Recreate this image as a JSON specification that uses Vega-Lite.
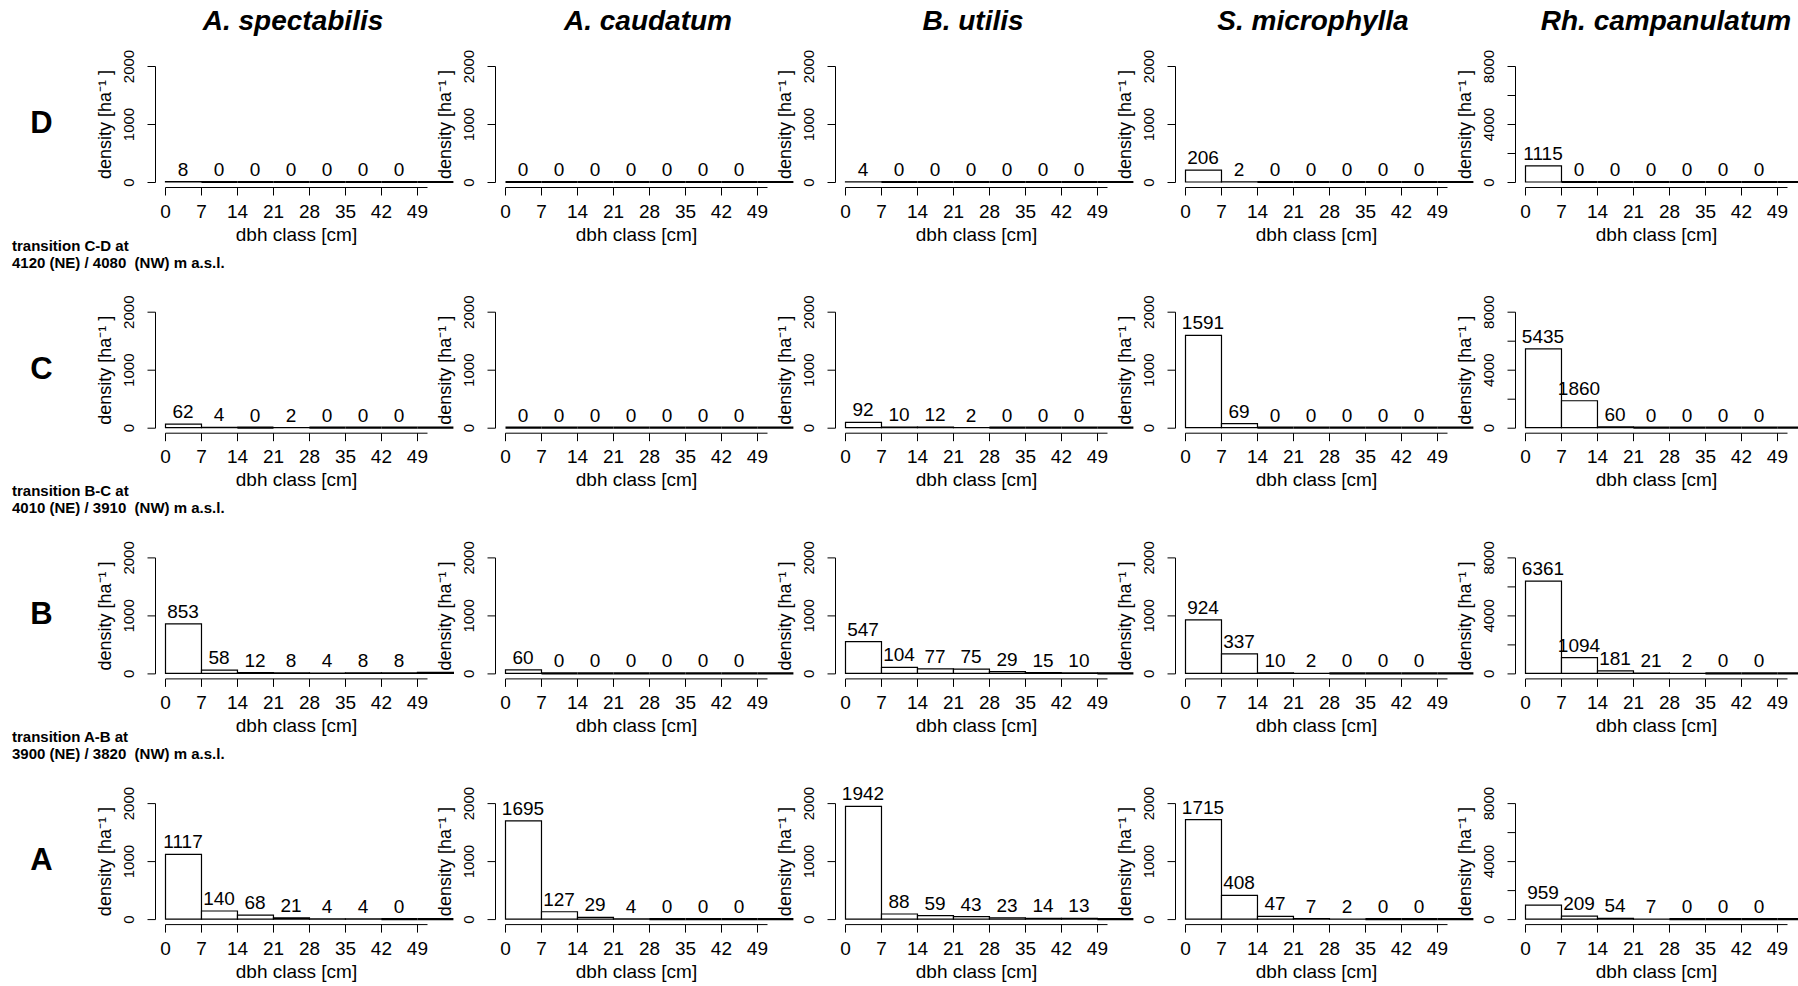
{
  "$schema": "https://vega.github.io/schema/vega-lite/v6.json",
  "autosize": {"type": "pad"},
  "padding": {"left": 0, "top": 8, "right": 5, "bottom": 5},
  "background": "white",
  "data": {"values": [
    {"zone":"D","species":"A. spectabilis","from":0,"to":7,"density":8},
    {"zone":"D","species":"A. spectabilis","from":7,"to":14,"density":0},
    {"zone":"D","species":"A. spectabilis","from":14,"to":21,"density":0},
    {"zone":"D","species":"A. spectabilis","from":21,"to":28,"density":0},
    {"zone":"D","species":"A. spectabilis","from":28,"to":35,"density":0},
    {"zone":"D","species":"A. spectabilis","from":35,"to":42,"density":0},
    {"zone":"D","species":"A. spectabilis","from":42,"to":49,"density":0},
    {"zone":"D","species":"A. spectabilis","from":49,"to":56,"density":0},
    {"zone":"D","species":"A. caudatum","from":0,"to":7,"density":0},
    {"zone":"D","species":"A. caudatum","from":7,"to":14,"density":0},
    {"zone":"D","species":"A. caudatum","from":14,"to":21,"density":0},
    {"zone":"D","species":"A. caudatum","from":21,"to":28,"density":0},
    {"zone":"D","species":"A. caudatum","from":28,"to":35,"density":0},
    {"zone":"D","species":"A. caudatum","from":35,"to":42,"density":0},
    {"zone":"D","species":"A. caudatum","from":42,"to":49,"density":0},
    {"zone":"D","species":"A. caudatum","from":49,"to":56,"density":0},
    {"zone":"D","species":"B. utilis","from":0,"to":7,"density":4},
    {"zone":"D","species":"B. utilis","from":7,"to":14,"density":0},
    {"zone":"D","species":"B. utilis","from":14,"to":21,"density":0},
    {"zone":"D","species":"B. utilis","from":21,"to":28,"density":0},
    {"zone":"D","species":"B. utilis","from":28,"to":35,"density":0},
    {"zone":"D","species":"B. utilis","from":35,"to":42,"density":0},
    {"zone":"D","species":"B. utilis","from":42,"to":49,"density":0},
    {"zone":"D","species":"B. utilis","from":49,"to":56,"density":0},
    {"zone":"D","species":"S. microphylla","from":0,"to":7,"density":206},
    {"zone":"D","species":"S. microphylla","from":7,"to":14,"density":2},
    {"zone":"D","species":"S. microphylla","from":14,"to":21,"density":0},
    {"zone":"D","species":"S. microphylla","from":21,"to":28,"density":0},
    {"zone":"D","species":"S. microphylla","from":28,"to":35,"density":0},
    {"zone":"D","species":"S. microphylla","from":35,"to":42,"density":0},
    {"zone":"D","species":"S. microphylla","from":42,"to":49,"density":0},
    {"zone":"D","species":"S. microphylla","from":49,"to":56,"density":0},
    {"zone":"D","species":"Rh. campanulatum","from":0,"to":7,"density":1115},
    {"zone":"D","species":"Rh. campanulatum","from":7,"to":14,"density":0},
    {"zone":"D","species":"Rh. campanulatum","from":14,"to":21,"density":0},
    {"zone":"D","species":"Rh. campanulatum","from":21,"to":28,"density":0},
    {"zone":"D","species":"Rh. campanulatum","from":28,"to":35,"density":0},
    {"zone":"D","species":"Rh. campanulatum","from":35,"to":42,"density":0},
    {"zone":"D","species":"Rh. campanulatum","from":42,"to":49,"density":0},
    {"zone":"D","species":"Rh. campanulatum","from":49,"to":56,"density":0},
    {"zone":"C","species":"A. spectabilis","from":0,"to":7,"density":62},
    {"zone":"C","species":"A. spectabilis","from":7,"to":14,"density":4},
    {"zone":"C","species":"A. spectabilis","from":14,"to":21,"density":0},
    {"zone":"C","species":"A. spectabilis","from":21,"to":28,"density":2},
    {"zone":"C","species":"A. spectabilis","from":28,"to":35,"density":0},
    {"zone":"C","species":"A. spectabilis","from":35,"to":42,"density":0},
    {"zone":"C","species":"A. spectabilis","from":42,"to":49,"density":0},
    {"zone":"C","species":"A. spectabilis","from":49,"to":56,"density":0},
    {"zone":"C","species":"A. caudatum","from":0,"to":7,"density":0},
    {"zone":"C","species":"A. caudatum","from":7,"to":14,"density":0},
    {"zone":"C","species":"A. caudatum","from":14,"to":21,"density":0},
    {"zone":"C","species":"A. caudatum","from":21,"to":28,"density":0},
    {"zone":"C","species":"A. caudatum","from":28,"to":35,"density":0},
    {"zone":"C","species":"A. caudatum","from":35,"to":42,"density":0},
    {"zone":"C","species":"A. caudatum","from":42,"to":49,"density":0},
    {"zone":"C","species":"A. caudatum","from":49,"to":56,"density":0},
    {"zone":"C","species":"B. utilis","from":0,"to":7,"density":92},
    {"zone":"C","species":"B. utilis","from":7,"to":14,"density":10},
    {"zone":"C","species":"B. utilis","from":14,"to":21,"density":12},
    {"zone":"C","species":"B. utilis","from":21,"to":28,"density":2},
    {"zone":"C","species":"B. utilis","from":28,"to":35,"density":0},
    {"zone":"C","species":"B. utilis","from":35,"to":42,"density":0},
    {"zone":"C","species":"B. utilis","from":42,"to":49,"density":0},
    {"zone":"C","species":"B. utilis","from":49,"to":56,"density":0},
    {"zone":"C","species":"S. microphylla","from":0,"to":7,"density":1591},
    {"zone":"C","species":"S. microphylla","from":7,"to":14,"density":69},
    {"zone":"C","species":"S. microphylla","from":14,"to":21,"density":0},
    {"zone":"C","species":"S. microphylla","from":21,"to":28,"density":0},
    {"zone":"C","species":"S. microphylla","from":28,"to":35,"density":0},
    {"zone":"C","species":"S. microphylla","from":35,"to":42,"density":0},
    {"zone":"C","species":"S. microphylla","from":42,"to":49,"density":0},
    {"zone":"C","species":"S. microphylla","from":49,"to":56,"density":0},
    {"zone":"C","species":"Rh. campanulatum","from":0,"to":7,"density":5435},
    {"zone":"C","species":"Rh. campanulatum","from":7,"to":14,"density":1860},
    {"zone":"C","species":"Rh. campanulatum","from":14,"to":21,"density":60},
    {"zone":"C","species":"Rh. campanulatum","from":21,"to":28,"density":0},
    {"zone":"C","species":"Rh. campanulatum","from":28,"to":35,"density":0},
    {"zone":"C","species":"Rh. campanulatum","from":35,"to":42,"density":0},
    {"zone":"C","species":"Rh. campanulatum","from":42,"to":49,"density":0},
    {"zone":"C","species":"Rh. campanulatum","from":49,"to":56,"density":0},
    {"zone":"B","species":"A. spectabilis","from":0,"to":7,"density":853},
    {"zone":"B","species":"A. spectabilis","from":7,"to":14,"density":58},
    {"zone":"B","species":"A. spectabilis","from":14,"to":21,"density":12},
    {"zone":"B","species":"A. spectabilis","from":21,"to":28,"density":8},
    {"zone":"B","species":"A. spectabilis","from":28,"to":35,"density":4},
    {"zone":"B","species":"A. spectabilis","from":35,"to":42,"density":8},
    {"zone":"B","species":"A. spectabilis","from":42,"to":49,"density":8},
    {"zone":"B","species":"A. spectabilis","from":49,"to":56,"density":20},
    {"zone":"B","species":"A. caudatum","from":0,"to":7,"density":60},
    {"zone":"B","species":"A. caudatum","from":7,"to":14,"density":0},
    {"zone":"B","species":"A. caudatum","from":14,"to":21,"density":0},
    {"zone":"B","species":"A. caudatum","from":21,"to":28,"density":0},
    {"zone":"B","species":"A. caudatum","from":28,"to":35,"density":0},
    {"zone":"B","species":"A. caudatum","from":35,"to":42,"density":0},
    {"zone":"B","species":"A. caudatum","from":42,"to":49,"density":0},
    {"zone":"B","species":"A. caudatum","from":49,"to":56,"density":0},
    {"zone":"B","species":"B. utilis","from":0,"to":7,"density":547},
    {"zone":"B","species":"B. utilis","from":7,"to":14,"density":104},
    {"zone":"B","species":"B. utilis","from":14,"to":21,"density":77},
    {"zone":"B","species":"B. utilis","from":21,"to":28,"density":75},
    {"zone":"B","species":"B. utilis","from":28,"to":35,"density":29},
    {"zone":"B","species":"B. utilis","from":35,"to":42,"density":15},
    {"zone":"B","species":"B. utilis","from":42,"to":49,"density":10},
    {"zone":"B","species":"B. utilis","from":49,"to":56,"density":0},
    {"zone":"B","species":"S. microphylla","from":0,"to":7,"density":924},
    {"zone":"B","species":"S. microphylla","from":7,"to":14,"density":337},
    {"zone":"B","species":"S. microphylla","from":14,"to":21,"density":10},
    {"zone":"B","species":"S. microphylla","from":21,"to":28,"density":2},
    {"zone":"B","species":"S. microphylla","from":28,"to":35,"density":0},
    {"zone":"B","species":"S. microphylla","from":35,"to":42,"density":0},
    {"zone":"B","species":"S. microphylla","from":42,"to":49,"density":0},
    {"zone":"B","species":"S. microphylla","from":49,"to":56,"density":0},
    {"zone":"B","species":"Rh. campanulatum","from":0,"to":7,"density":6361},
    {"zone":"B","species":"Rh. campanulatum","from":7,"to":14,"density":1094},
    {"zone":"B","species":"Rh. campanulatum","from":14,"to":21,"density":181},
    {"zone":"B","species":"Rh. campanulatum","from":21,"to":28,"density":21},
    {"zone":"B","species":"Rh. campanulatum","from":28,"to":35,"density":2},
    {"zone":"B","species":"Rh. campanulatum","from":35,"to":42,"density":0},
    {"zone":"B","species":"Rh. campanulatum","from":42,"to":49,"density":0},
    {"zone":"B","species":"Rh. campanulatum","from":49,"to":56,"density":0},
    {"zone":"A","species":"A. spectabilis","from":0,"to":7,"density":1117},
    {"zone":"A","species":"A. spectabilis","from":7,"to":14,"density":140},
    {"zone":"A","species":"A. spectabilis","from":14,"to":21,"density":68},
    {"zone":"A","species":"A. spectabilis","from":21,"to":28,"density":21},
    {"zone":"A","species":"A. spectabilis","from":28,"to":35,"density":4},
    {"zone":"A","species":"A. spectabilis","from":35,"to":42,"density":4},
    {"zone":"A","species":"A. spectabilis","from":42,"to":49,"density":0},
    {"zone":"A","species":"A. spectabilis","from":49,"to":56,"density":0},
    {"zone":"A","species":"A. caudatum","from":0,"to":7,"density":1695},
    {"zone":"A","species":"A. caudatum","from":7,"to":14,"density":127},
    {"zone":"A","species":"A. caudatum","from":14,"to":21,"density":29},
    {"zone":"A","species":"A. caudatum","from":21,"to":28,"density":4},
    {"zone":"A","species":"A. caudatum","from":28,"to":35,"density":0},
    {"zone":"A","species":"A. caudatum","from":35,"to":42,"density":0},
    {"zone":"A","species":"A. caudatum","from":42,"to":49,"density":0},
    {"zone":"A","species":"A. caudatum","from":49,"to":56,"density":0},
    {"zone":"A","species":"B. utilis","from":0,"to":7,"density":1942},
    {"zone":"A","species":"B. utilis","from":7,"to":14,"density":88},
    {"zone":"A","species":"B. utilis","from":14,"to":21,"density":59},
    {"zone":"A","species":"B. utilis","from":21,"to":28,"density":43},
    {"zone":"A","species":"B. utilis","from":28,"to":35,"density":23},
    {"zone":"A","species":"B. utilis","from":35,"to":42,"density":14},
    {"zone":"A","species":"B. utilis","from":42,"to":49,"density":13},
    {"zone":"A","species":"B. utilis","from":49,"to":56,"density":0},
    {"zone":"A","species":"S. microphylla","from":0,"to":7,"density":1715},
    {"zone":"A","species":"S. microphylla","from":7,"to":14,"density":408},
    {"zone":"A","species":"S. microphylla","from":14,"to":21,"density":47},
    {"zone":"A","species":"S. microphylla","from":21,"to":28,"density":7},
    {"zone":"A","species":"S. microphylla","from":28,"to":35,"density":2},
    {"zone":"A","species":"S. microphylla","from":35,"to":42,"density":0},
    {"zone":"A","species":"S. microphylla","from":42,"to":49,"density":0},
    {"zone":"A","species":"S. microphylla","from":49,"to":56,"density":0},
    {"zone":"A","species":"Rh. campanulatum","from":0,"to":7,"density":959},
    {"zone":"A","species":"Rh. campanulatum","from":7,"to":14,"density":209},
    {"zone":"A","species":"Rh. campanulatum","from":14,"to":21,"density":54},
    {"zone":"A","species":"Rh. campanulatum","from":21,"to":28,"density":7},
    {"zone":"A","species":"Rh. campanulatum","from":28,"to":35,"density":0},
    {"zone":"A","species":"Rh. campanulatum","from":35,"to":42,"density":0},
    {"zone":"A","species":"Rh. campanulatum","from":42,"to":49,"density":0},
    {"zone":"A","species":"Rh. campanulatum","from":49,"to":56,"density":0}
  ]},
  "columns": 6,
  "bounds": "flush",
  "spacing": {"row": 129.7, "column": 78},
  "concat": [
    {"width":87,"height":116,"data":{"values":[{"zone":"D"}]},"mark":{"type":"text","fontSize":31,"fontWeight":"bold","baseline":"middle","dy":0,"dx":-2},"encoding":{"text":{"field":"zone","type":"nominal"}}},
    {"width":262,"height":116,"title":{"text":"A. spectabilis","dx":-3},"transform":[{"filter":"datum.zone==='D'&&datum.species==='A. spectabilis'"}],"encoding":{"x":{"field":"from","type":"quantitative","bin":"binned","scale":{"domain":[0,50.96],"nice":false,"zero":false},"axis":{"values":[0,7,14,21,28,35,42,49],"title":"dbh class [cm]"}},"x2":{"field":"to"},"y":{"field":"density","type":"quantitative","scale":{"domain":[0,2000],"nice":false},"axis":{"values":[0,1000,2000],"title":"density [ha⁻¹ ]"}}},"layer":[{"mark":"bar","encoding":{"strokeWidth":{"condition":{"test":"datum.density === 0","value":2.2},"value":1.2}}},{"transform":[{"filter":"datum.from<49"}],"mark":"text","encoding":{"text":{"field":"density","type":"quantitative","format":"d"}}}]},
    {"width":262,"height":116,"title":{"text":"A. caudatum","dx":12},"transform":[{"filter":"datum.zone==='D'&&datum.species==='A. caudatum'"}],"encoding":{"x":{"field":"from","type":"quantitative","bin":"binned","scale":{"domain":[0,50.96],"nice":false,"zero":false},"axis":{"values":[0,7,14,21,28,35,42,49],"title":"dbh class [cm]"}},"x2":{"field":"to"},"y":{"field":"density","type":"quantitative","scale":{"domain":[0,2000],"nice":false},"axis":{"values":[0,1000,2000],"title":"density [ha⁻¹ ]"}}},"layer":[{"mark":"bar","encoding":{"strokeWidth":{"condition":{"test":"datum.density === 0","value":2.2},"value":1.2}}},{"transform":[{"filter":"datum.from<49"}],"mark":"text","encoding":{"text":{"field":"density","type":"quantitative","format":"d"}}}]},
    {"width":262,"height":116,"title":{"text":"B. utilis","dx":-3},"transform":[{"filter":"datum.zone==='D'&&datum.species==='B. utilis'"}],"encoding":{"x":{"field":"from","type":"quantitative","bin":"binned","scale":{"domain":[0,50.96],"nice":false,"zero":false},"axis":{"values":[0,7,14,21,28,35,42,49],"title":"dbh class [cm]"}},"x2":{"field":"to"},"y":{"field":"density","type":"quantitative","scale":{"domain":[0,2000],"nice":false},"axis":{"values":[0,1000,2000],"title":"density [ha⁻¹ ]"}}},"layer":[{"mark":"bar","encoding":{"strokeWidth":{"condition":{"test":"datum.density === 0","value":2.2},"value":1.2}}},{"transform":[{"filter":"datum.from<49"}],"mark":"text","encoding":{"text":{"field":"density","type":"quantitative","format":"d"}}}]},
    {"width":262,"height":116,"title":{"text":"S. microphylla","dx":-3},"transform":[{"filter":"datum.zone==='D'&&datum.species==='S. microphylla'"}],"encoding":{"x":{"field":"from","type":"quantitative","bin":"binned","scale":{"domain":[0,50.96],"nice":false,"zero":false},"axis":{"values":[0,7,14,21,28,35,42,49],"title":"dbh class [cm]"}},"x2":{"field":"to"},"y":{"field":"density","type":"quantitative","scale":{"domain":[0,2000],"nice":false},"axis":{"values":[0,1000,2000],"title":"density [ha⁻¹ ]"}}},"layer":[{"mark":"bar","encoding":{"strokeWidth":{"condition":{"test":"datum.density === 0","value":2.2},"value":1.2}}},{"transform":[{"filter":"datum.from<49"}],"mark":"text","encoding":{"text":{"field":"density","type":"quantitative","format":"d"}}}]},
    {"width":262,"height":116,"title":{"text":"Rh. campanulatum","dx":10},"transform":[{"filter":"datum.zone==='D'&&datum.species==='Rh. campanulatum'"}],"encoding":{"x":{"field":"from","type":"quantitative","bin":"binned","scale":{"domain":[0,50.96],"nice":false,"zero":false},"axis":{"values":[0,7,14,21,28,35,42,49],"title":"dbh class [cm]"}},"x2":{"field":"to"},"y":{"field":"density","type":"quantitative","scale":{"domain":[0,8000],"nice":false},"axis":{"values":[0,2000,4000,6000,8000],"labelExpr":"datum.value % 4000 === 0 ? datum.label : ''","title":"density [ha⁻¹ ]"}}},"layer":[{"mark":"bar","encoding":{"strokeWidth":{"condition":{"test":"datum.density === 0","value":2.2},"value":1.2}}},{"transform":[{"filter":"datum.from<49"}],"mark":"text","encoding":{"text":{"field":"density","type":"quantitative","format":"d"}}}]},

    {"width":87,"height":116,"title":{"text":["transition C-D at","4120 (NE) / 4080\u00a0 (NW) m a.s.l."],"fontSize":15,"fontStyle":"normal","fontWeight":"bold","anchor":"start","lineHeight":17,"dx":12,"offset":41},"data":{"values":[{"zone":"C"}]},"mark":{"type":"text","fontSize":31,"fontWeight":"bold","baseline":"middle","dy":0,"dx":-2},"encoding":{"text":{"field":"zone","type":"nominal"}}},
    {"width":262,"height":116,"transform":[{"filter":"datum.zone==='C'&&datum.species==='A. spectabilis'"}],"encoding":{"x":{"field":"from","type":"quantitative","bin":"binned","scale":{"domain":[0,50.96],"nice":false,"zero":false},"axis":{"values":[0,7,14,21,28,35,42,49],"title":"dbh class [cm]"}},"x2":{"field":"to"},"y":{"field":"density","type":"quantitative","scale":{"domain":[0,2000],"nice":false},"axis":{"values":[0,1000,2000],"title":"density [ha⁻¹ ]"}}},"layer":[{"mark":"bar","encoding":{"strokeWidth":{"condition":{"test":"datum.density === 0","value":2.2},"value":1.2}}},{"transform":[{"filter":"datum.from<49"}],"mark":"text","encoding":{"text":{"field":"density","type":"quantitative","format":"d"}}}]},
    {"width":262,"height":116,"transform":[{"filter":"datum.zone==='C'&&datum.species==='A. caudatum'"}],"encoding":{"x":{"field":"from","type":"quantitative","bin":"binned","scale":{"domain":[0,50.96],"nice":false,"zero":false},"axis":{"values":[0,7,14,21,28,35,42,49],"title":"dbh class [cm]"}},"x2":{"field":"to"},"y":{"field":"density","type":"quantitative","scale":{"domain":[0,2000],"nice":false},"axis":{"values":[0,1000,2000],"title":"density [ha⁻¹ ]"}}},"layer":[{"mark":"bar","encoding":{"strokeWidth":{"condition":{"test":"datum.density === 0","value":2.2},"value":1.2}}},{"transform":[{"filter":"datum.from<49"}],"mark":"text","encoding":{"text":{"field":"density","type":"quantitative","format":"d"}}}]},
    {"width":262,"height":116,"transform":[{"filter":"datum.zone==='C'&&datum.species==='B. utilis'"}],"encoding":{"x":{"field":"from","type":"quantitative","bin":"binned","scale":{"domain":[0,50.96],"nice":false,"zero":false},"axis":{"values":[0,7,14,21,28,35,42,49],"title":"dbh class [cm]"}},"x2":{"field":"to"},"y":{"field":"density","type":"quantitative","scale":{"domain":[0,2000],"nice":false},"axis":{"values":[0,1000,2000],"title":"density [ha⁻¹ ]"}}},"layer":[{"mark":"bar","encoding":{"strokeWidth":{"condition":{"test":"datum.density === 0","value":2.2},"value":1.2}}},{"transform":[{"filter":"datum.from<49"}],"mark":"text","encoding":{"text":{"field":"density","type":"quantitative","format":"d"}}}]},
    {"width":262,"height":116,"transform":[{"filter":"datum.zone==='C'&&datum.species==='S. microphylla'"}],"encoding":{"x":{"field":"from","type":"quantitative","bin":"binned","scale":{"domain":[0,50.96],"nice":false,"zero":false},"axis":{"values":[0,7,14,21,28,35,42,49],"title":"dbh class [cm]"}},"x2":{"field":"to"},"y":{"field":"density","type":"quantitative","scale":{"domain":[0,2000],"nice":false},"axis":{"values":[0,1000,2000],"title":"density [ha⁻¹ ]"}}},"layer":[{"mark":"bar","encoding":{"strokeWidth":{"condition":{"test":"datum.density === 0","value":2.2},"value":1.2}}},{"transform":[{"filter":"datum.from<49"}],"mark":"text","encoding":{"text":{"field":"density","type":"quantitative","format":"d"}}}]},
    {"width":262,"height":116,"transform":[{"filter":"datum.zone==='C'&&datum.species==='Rh. campanulatum'"}],"encoding":{"x":{"field":"from","type":"quantitative","bin":"binned","scale":{"domain":[0,50.96],"nice":false,"zero":false},"axis":{"values":[0,7,14,21,28,35,42,49],"title":"dbh class [cm]"}},"x2":{"field":"to"},"y":{"field":"density","type":"quantitative","scale":{"domain":[0,8000],"nice":false},"axis":{"values":[0,2000,4000,6000,8000],"labelExpr":"datum.value % 4000 === 0 ? datum.label : ''","title":"density [ha⁻¹ ]"}}},"layer":[{"mark":"bar","encoding":{"strokeWidth":{"condition":{"test":"datum.density === 0","value":2.2},"value":1.2}}},{"transform":[{"filter":"datum.from<49"}],"mark":"text","encoding":{"text":{"field":"density","type":"quantitative","format":"d"}}}]},

    {"width":87,"height":116,"title":{"text":["transition B-C at","4010 (NE) / 3910\u00a0 (NW) m a.s.l."],"fontSize":15,"fontStyle":"normal","fontWeight":"bold","anchor":"start","lineHeight":17,"dx":12,"offset":41},"data":{"values":[{"zone":"B"}]},"mark":{"type":"text","fontSize":31,"fontWeight":"bold","baseline":"middle","dy":0,"dx":-2},"encoding":{"text":{"field":"zone","type":"nominal"}}},
    {"width":262,"height":116,"transform":[{"filter":"datum.zone==='B'&&datum.species==='A. spectabilis'"}],"encoding":{"x":{"field":"from","type":"quantitative","bin":"binned","scale":{"domain":[0,50.96],"nice":false,"zero":false},"axis":{"values":[0,7,14,21,28,35,42,49],"title":"dbh class [cm]"}},"x2":{"field":"to"},"y":{"field":"density","type":"quantitative","scale":{"domain":[0,2000],"nice":false},"axis":{"values":[0,1000,2000],"title":"density [ha⁻¹ ]"}}},"layer":[{"mark":"bar","encoding":{"strokeWidth":{"condition":{"test":"datum.density === 0","value":2.2},"value":1.2}}},{"transform":[{"filter":"datum.from<49"}],"mark":"text","encoding":{"text":{"field":"density","type":"quantitative","format":"d"}}}]},
    {"width":262,"height":116,"transform":[{"filter":"datum.zone==='B'&&datum.species==='A. caudatum'"}],"encoding":{"x":{"field":"from","type":"quantitative","bin":"binned","scale":{"domain":[0,50.96],"nice":false,"zero":false},"axis":{"values":[0,7,14,21,28,35,42,49],"title":"dbh class [cm]"}},"x2":{"field":"to"},"y":{"field":"density","type":"quantitative","scale":{"domain":[0,2000],"nice":false},"axis":{"values":[0,1000,2000],"title":"density [ha⁻¹ ]"}}},"layer":[{"mark":"bar","encoding":{"strokeWidth":{"condition":{"test":"datum.density === 0","value":2.2},"value":1.2}}},{"transform":[{"filter":"datum.from<49"}],"mark":"text","encoding":{"text":{"field":"density","type":"quantitative","format":"d"}}}]},
    {"width":262,"height":116,"transform":[{"filter":"datum.zone==='B'&&datum.species==='B. utilis'"}],"encoding":{"x":{"field":"from","type":"quantitative","bin":"binned","scale":{"domain":[0,50.96],"nice":false,"zero":false},"axis":{"values":[0,7,14,21,28,35,42,49],"title":"dbh class [cm]"}},"x2":{"field":"to"},"y":{"field":"density","type":"quantitative","scale":{"domain":[0,2000],"nice":false},"axis":{"values":[0,1000,2000],"title":"density [ha⁻¹ ]"}}},"layer":[{"mark":"bar","encoding":{"strokeWidth":{"condition":{"test":"datum.density === 0","value":2.2},"value":1.2}}},{"transform":[{"filter":"datum.from<49"}],"mark":"text","encoding":{"text":{"field":"density","type":"quantitative","format":"d"}}}]},
    {"width":262,"height":116,"transform":[{"filter":"datum.zone==='B'&&datum.species==='S. microphylla'"}],"encoding":{"x":{"field":"from","type":"quantitative","bin":"binned","scale":{"domain":[0,50.96],"nice":false,"zero":false},"axis":{"values":[0,7,14,21,28,35,42,49],"title":"dbh class [cm]"}},"x2":{"field":"to"},"y":{"field":"density","type":"quantitative","scale":{"domain":[0,2000],"nice":false},"axis":{"values":[0,1000,2000],"title":"density [ha⁻¹ ]"}}},"layer":[{"mark":"bar","encoding":{"strokeWidth":{"condition":{"test":"datum.density === 0","value":2.2},"value":1.2}}},{"transform":[{"filter":"datum.from<49"}],"mark":"text","encoding":{"text":{"field":"density","type":"quantitative","format":"d"}}}]},
    {"width":262,"height":116,"transform":[{"filter":"datum.zone==='B'&&datum.species==='Rh. campanulatum'"}],"encoding":{"x":{"field":"from","type":"quantitative","bin":"binned","scale":{"domain":[0,50.96],"nice":false,"zero":false},"axis":{"values":[0,7,14,21,28,35,42,49],"title":"dbh class [cm]"}},"x2":{"field":"to"},"y":{"field":"density","type":"quantitative","scale":{"domain":[0,8000],"nice":false},"axis":{"values":[0,2000,4000,6000,8000],"labelExpr":"datum.value % 4000 === 0 ? datum.label : ''","title":"density [ha⁻¹ ]"}}},"layer":[{"mark":"bar","encoding":{"strokeWidth":{"condition":{"test":"datum.density === 0","value":2.2},"value":1.2}}},{"transform":[{"filter":"datum.from<49"}],"mark":"text","encoding":{"text":{"field":"density","type":"quantitative","format":"d"}}}]},

    {"width":87,"height":116,"title":{"text":["transition A-B at","3900 (NE) / 3820\u00a0 (NW) m a.s.l."],"fontSize":15,"fontStyle":"normal","fontWeight":"bold","anchor":"start","lineHeight":17,"dx":12,"offset":41},"data":{"values":[{"zone":"A"}]},"mark":{"type":"text","fontSize":31,"fontWeight":"bold","baseline":"middle","dy":0,"dx":-2},"encoding":{"text":{"field":"zone","type":"nominal"}}},
    {"width":262,"height":116,"transform":[{"filter":"datum.zone==='A'&&datum.species==='A. spectabilis'"}],"encoding":{"x":{"field":"from","type":"quantitative","bin":"binned","scale":{"domain":[0,50.96],"nice":false,"zero":false},"axis":{"values":[0,7,14,21,28,35,42,49],"title":"dbh class [cm]"}},"x2":{"field":"to"},"y":{"field":"density","type":"quantitative","scale":{"domain":[0,2000],"nice":false},"axis":{"values":[0,1000,2000],"title":"density [ha⁻¹ ]"}}},"layer":[{"mark":"bar","encoding":{"strokeWidth":{"condition":{"test":"datum.density === 0","value":2.2},"value":1.2}}},{"transform":[{"filter":"datum.from<49"}],"mark":"text","encoding":{"text":{"field":"density","type":"quantitative","format":"d"}}}]},
    {"width":262,"height":116,"transform":[{"filter":"datum.zone==='A'&&datum.species==='A. caudatum'"}],"encoding":{"x":{"field":"from","type":"quantitative","bin":"binned","scale":{"domain":[0,50.96],"nice":false,"zero":false},"axis":{"values":[0,7,14,21,28,35,42,49],"title":"dbh class [cm]"}},"x2":{"field":"to"},"y":{"field":"density","type":"quantitative","scale":{"domain":[0,2000],"nice":false},"axis":{"values":[0,1000,2000],"title":"density [ha⁻¹ ]"}}},"layer":[{"mark":"bar","encoding":{"strokeWidth":{"condition":{"test":"datum.density === 0","value":2.2},"value":1.2}}},{"transform":[{"filter":"datum.from<49"}],"mark":"text","encoding":{"text":{"field":"density","type":"quantitative","format":"d"}}}]},
    {"width":262,"height":116,"transform":[{"filter":"datum.zone==='A'&&datum.species==='B. utilis'"}],"encoding":{"x":{"field":"from","type":"quantitative","bin":"binned","scale":{"domain":[0,50.96],"nice":false,"zero":false},"axis":{"values":[0,7,14,21,28,35,42,49],"title":"dbh class [cm]"}},"x2":{"field":"to"},"y":{"field":"density","type":"quantitative","scale":{"domain":[0,2000],"nice":false},"axis":{"values":[0,1000,2000],"title":"density [ha⁻¹ ]"}}},"layer":[{"mark":"bar","encoding":{"strokeWidth":{"condition":{"test":"datum.density === 0","value":2.2},"value":1.2}}},{"transform":[{"filter":"datum.from<49"}],"mark":"text","encoding":{"text":{"field":"density","type":"quantitative","format":"d"}}}]},
    {"width":262,"height":116,"transform":[{"filter":"datum.zone==='A'&&datum.species==='S. microphylla'"}],"encoding":{"x":{"field":"from","type":"quantitative","bin":"binned","scale":{"domain":[0,50.96],"nice":false,"zero":false},"axis":{"values":[0,7,14,21,28,35,42,49],"title":"dbh class [cm]"}},"x2":{"field":"to"},"y":{"field":"density","type":"quantitative","scale":{"domain":[0,2000],"nice":false},"axis":{"values":[0,1000,2000],"title":"density [ha⁻¹ ]"}}},"layer":[{"mark":"bar","encoding":{"strokeWidth":{"condition":{"test":"datum.density === 0","value":2.2},"value":1.2}}},{"transform":[{"filter":"datum.from<49"}],"mark":"text","encoding":{"text":{"field":"density","type":"quantitative","format":"d"}}}]},
    {"width":262,"height":116,"transform":[{"filter":"datum.zone==='A'&&datum.species==='Rh. campanulatum'"}],"encoding":{"x":{"field":"from","type":"quantitative","bin":"binned","scale":{"domain":[0,50.96],"nice":false,"zero":false},"axis":{"values":[0,7,14,21,28,35,42,49],"title":"dbh class [cm]"}},"x2":{"field":"to"},"y":{"field":"density","type":"quantitative","scale":{"domain":[0,8000],"nice":false},"axis":{"values":[0,2000,4000,6000,8000],"labelExpr":"datum.value % 4000 === 0 ? datum.label : ''","title":"density [ha⁻¹ ]"}}},"layer":[{"mark":"bar","encoding":{"strokeWidth":{"condition":{"test":"datum.density === 0","value":2.2},"value":1.2}}},{"transform":[{"filter":"datum.from<49"}],"mark":"text","encoding":{"text":{"field":"density","type":"quantitative","format":"d"}}}]}
  ],
  "config": {
    "view": {"stroke": null},
    "font": "Liberation Sans",
    "numberFormat": "d",
    "axis": {"domainColor": "black", "tickColor": "black", "labelColor": "black", "titleColor": "black", "grid": false, "tickSize": 8, "domainWidth": 1, "tickWidth": 1, "titleFontWeight": "normal", "labelFont": "Liberation Sans", "titleFont": "Liberation Sans"},
    "axisX": {"labelFontSize": 19, "titleFontSize": 19, "offset": 5, "labelPadding": 7, "titlePadding": 4, "labelFlush": false, "labelOverlap": false},
    "axisY": {"labelFontSize": 15, "titleFontSize": 18, "offset": 10, "labelAngle": -90, "labelAlign": "center", "labelBaseline": "alphabetic", "labelPadding": 14, "titlePadding": 7, "labelOverlap": false},
    "bar": {"fill": "white", "stroke": "black", "binSpacing": 0, "clip": true},
    "text": {"fontSize": 19, "baseline": "alphabetic", "dy": -6, "dx": 18, "color": "black", "font": "Liberation Sans"},
    "title": {"fontSize": 28, "fontWeight": "bold", "fontStyle": "italic", "color": "black", "font": "Liberation Sans", "frame": "group", "anchor": "middle", "baseline": "alphabetic", "offset": 13}
  }
}
